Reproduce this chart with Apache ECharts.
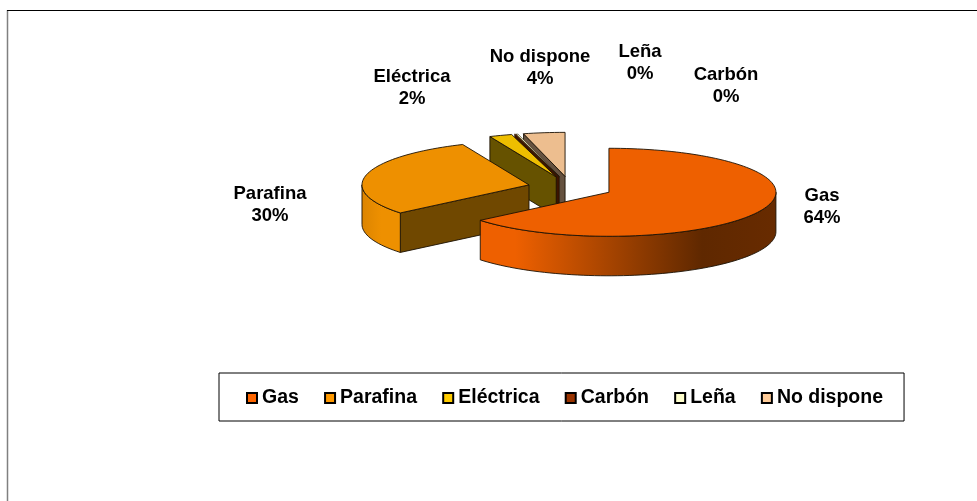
<!DOCTYPE html>
<html><head><meta charset="utf-8">
<style>html,body{margin:0;padding:0;background:#fff}#c{width:977px;height:501px}</style>
<script src="https://cdn.jsdelivr.net/npm/echarts@6/dist/echarts.min.js"></script>
</head><body><div id="c"></div>
<script>
var categories = ['Gas','Parafina','Eléctrica','Carbón','Leña','No dispone'];
var shares = [64.0, 29.5, 2.2, 0.1, 0.2, 4.0];

var legendColors = ['#FF6600','#FF9900','#FFCC00','#993300','#FFFFCC','#FFCC99'];
var topColors = ['#EE6000','#EE9000','#EEBE00','#8F3000','#EEEEBE','#EDBE8F'];
var faceColors = ['#5F2800','#704800','#665200','#3D1400','#8A8A72','#665240'];
var paintRank = [6,5,4,3,2,1];
var labelPlaces = [[822,206.5],[270,205],[412,88],[726,86],[640,63],[540,68]];

var pie = {cx:570.4, cy:187.5, rx:167, ry:44, depth:39.5, explode:0.255};
var total = shares.reduce(function(a,b){return a+b;},0);
var font = '"Liberation Sans", Arial, sans-serif';
var edge = '#1c1205';

function rad(a){return a*Math.PI/180;}
function rim(c,a,dy){return [c[0]+pie.rx*Math.sin(rad(a)), c[1]-pie.ry*Math.cos(rad(a))+(dy||0)];}
function arc(c,a0,a1,dy){
  var n=Math.max(2,Math.ceil((a1-a0)/2)),pts=[];
  for(var i=0;i<=n;i++)pts.push(rim(c,a0+(a1-a0)*i/n,dy));
  return pts;
}
function poly(points,fill,z,width){
  return {type:'polygon',shape:{points:points},z2:z,
    style:{fill:fill,stroke:edge,lineWidth:width||0.9,lineJoin:'round'}};
}
function wallFill(i){
  if(i===0) return {type:'linear',x:0,y:0,x2:1,y2:0,colorStops:[
    {offset:0,color:'#EE6000'},{offset:0.12,color:'#EE6000'},
    {offset:0.75,color:'#5F2800'},{offset:1,color:'#682B00'}]};
  if(i===1) return {type:'linear',x:0,y:0,x2:1,y2:0,colorStops:[
    {offset:0,color:'#DC8400'},{offset:0.5,color:'#EE9000'},{offset:1,color:'#EE9000'}]};
  return faceColors[i];
}
function sliceRender(i){
  return function(params,api){
    var value=api.value(0);
    var before=shares.slice(0,i).reduce(function(a,b){return a+b;},0);
    var a0=before/total*360, a1=(before+value)/total*360, m=(a0+a1)/2;
    var c=[pie.cx+pie.explode*pie.rx*Math.sin(rad(m)), pie.cy-pie.explode*pie.ry*Math.cos(rad(m))];
    var kids=[], d=pie.depth, z=1;
    var w=value<1?0.5:0.9;
    function face(a){
      var p=rim(c,a);
      kids.push(poly([c,p,[p[0],p[1]+d],[c[0],c[1]+d]],faceColors[i],z++,w));
    }
    if(Math.sin(rad(a0))<0) face(a0);
    if(Math.sin(rad(a1))>0) face(a1);
    var w0=Math.max(a0,90), w1=Math.min(a1,270);
    if(w1>w0){
      kids.push(poly(arc(c,w0,w1,0).concat(arc(c,w0,w1,d).reverse()),wallFill(i),z++,w));
    }
    kids.push(poly([c].concat(arc(c,a0,a1,0)),topColors[i],z++,w));
    kids.push({type:'text',x:labelPlaces[i][0],y:labelPlaces[i][1],z2:z++,
      style:{text:categories[i]+'\n'+Math.round(value/total*100)+'%',
        fontFamily:font,fontWeight:'bold',fontSize:18.5,lineHeight:22,
        fill:'#000',align:'center',verticalAlign:'middle'}});
    return {type:'group',children:kids};
  };
}
var chart=echarts.init(document.getElementById('c'),null,{renderer:'canvas'});
chart.setOption({
  animation:false,
  backgroundColor:'#fff',
  legend:{
    left:219,top:373,orient:'horizontal',selectedMode:false,
    padding:[15,21,13,27],itemGap:25.2,itemWidth:10,itemHeight:10,
    borderColor:'#000',borderWidth:1,
    textStyle:{fontFamily:font,fontWeight:'bold',fontSize:19.5,color:'#000'},
    data:categories.map(function(n,i){
      return {name:n,icon:'rect',itemStyle:{color:legendColors[i],borderColor:'#000',borderWidth:2}};
    })
  },
  graphic:[
    {type:'line',silent:true,shape:{x1:7.5,y1:10,x2:7.5,y2:501},style:{stroke:'#808080',lineWidth:1.5}},
    {type:'line',silent:true,shape:{x1:7,y1:10.5,x2:977,y2:10.5},style:{stroke:'#000',lineWidth:1}}
  ],
  series:categories.map(function(n,i){
    return {type:'custom',name:n,coordinateSystem:'none',z:paintRank[i],silent:true,
      itemStyle:{color:legendColors[i]},
      data:[[shares[i]]],renderItem:sliceRender(i)};
  })
});
</script></body></html>
